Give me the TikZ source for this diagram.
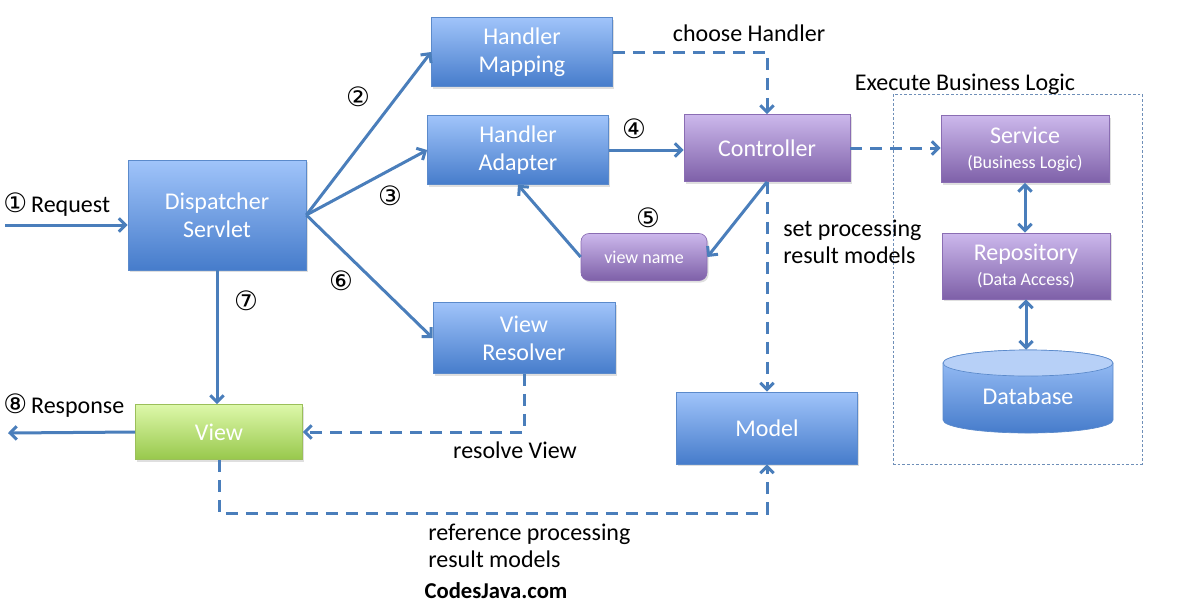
\documentclass[tikz,border=0pt]{standalone}
\usepackage{fontspec}
\setmainfont{Carlito}
\newfontfamily\circfont{DejaVu Sans}
\usetikzlibrary{arrows.meta,shadows}
\definecolor{lineblue}{HTML}{4A7EBB}
\definecolor{bluetop}{HTML}{A0C4FA}
\definecolor{bluebot}{HTML}{467CCB}
\definecolor{blueedge}{HTML}{5B8ACB}
\definecolor{purptop}{HTML}{CCB8EC}
\definecolor{purpbot}{HTML}{7E60A8}
\definecolor{purpedge}{HTML}{8A6DB3}
\definecolor{greentop}{HTML}{DDF8AA}
\definecolor{greenbot}{HTML}{98C84C}
\definecolor{greenedge}{HTML}{9BBF5A}
\definecolor{dbtop}{HTML}{B7D0F7}
\definecolor{contc}{HTML}{6F8FB8}
\begin{document}
\begin{tikzpicture}[x=0.75pt,y=-0.75pt,
  shd/.style={drop shadow={shadow xshift=1.2pt,shadow yshift=-1.5pt,opacity=0.25}},
  basebox/.style={inner sep=0pt, text=white, align=center, line width=0.5pt,
    font=\fontsize{18}{21}\selectfont, shd},
  bluebox/.style={basebox, draw=blueedge, top color=bluetop, bottom color=bluebot},
  purpbox/.style={basebox, draw=purpedge, top color=purptop, bottom color=purpbot},
  greenbox/.style={basebox, draw=greenedge, top color=greentop, bottom color=greenbot},
  lbl/.style={font=\fontsize{18}{20}\selectfont, text=black, inner sep=0pt, align=left},
  num/.style={font=\circfont\fontsize{20}{22}\selectfont, inner sep=0pt},
  arr/.style={draw=lineblue, line width=2.25pt, -{Straight Barb[length=5pt,width=10pt]}},
  darr/.style={arr, dash pattern=on 9pt off 6pt},
  biarr/.style={arr, {Straight Barb[length=5pt,width=10pt]}-{Straight Barb[length=5pt,width=10pt]}}
]
\useasboundingbox (0,0) rectangle (1195,612);

% business logic container
\node[draw=contc, line width=0.6pt, dash pattern=on 2pt off 1.5pt, inner sep=0pt,
      minimum width=186.75pt, minimum height=277.5pt] (bl) at (1017.5,279) {};
\node[lbl] (bltxt) at (965,84) {Execute Business Logic};

% boxes
\node[bluebox, minimum width=133.5pt, minimum height=82.5pt] (ds) at (217,215) {Dispatcher\\Servlet};
\node[bluebox, minimum width=135.75pt, minimum height=51.75pt] (hm) at (522,52) {Handler\\Mapping};
\node[bluebox, minimum width=135.75pt, minimum height=51.75pt] (ha) at (518,150) {Handler\\Adapter};
\node[purpbox, minimum width=124.5pt, minimum height=50.25pt] (ctrl) at (767,148) {Controller};
\node[purpbox, minimum width=94.5pt, minimum height=35.25pt, rounded corners=6pt,
      font=\fontsize{13.5}{16}\selectfont] (vn) at (644,257) {view name};
\node[bluebox, minimum width=136.5pt, minimum height=53.25pt] (vr) at (524,338) {View\\Resolver};
\node[greenbox, minimum width=125.25pt, minimum height=41.25pt] (view) at (219,432) {View};
\node[bluebox, minimum width=135.75pt, minimum height=54pt] (model) at (767,428) {Model};
\node[purpbox, minimum width=126pt, minimum height=50.25pt] (svc) at (1025,149)
  {Service\\[-2pt]{\fontsize{13.5}{16}\selectfont (Business Logic)}};
\node[purpbox, minimum width=126pt, minimum height=49.5pt] (repo) at (1026,266)
  {Repository\\[-2pt]{\fontsize{13.5}{16}\selectfont (Data Access)}};

% database cylinder
\shade[top color=bluetop, bottom color=bluebot, draw=blueedge, line width=0.5pt]
  (943,363) -- (943,420) arc[start angle=180,end angle=360,x radius=63.75pt,y radius=9.75pt]
  -- (1113,363) arc[start angle=0,end angle=180,x radius=63.75pt,y radius=9.75pt] -- cycle;
\fill[dbtop, draw=blueedge, line width=0.5pt] (1028,363) ellipse [x radius=63.75pt, y radius=9.75pt];
\node[inner sep=0pt, minimum width=127.5pt, minimum height=69pt, text=white,
      font=\fontsize{18}{21}\selectfont] (db) at (1028,396) {Database};

% free ends
\coordinate (reqs) at (5,225);
\coordinate (resp) at (8,433);
\coordinate (vmc) at (500,513);

% connectors
\draw[arr] (reqs) -- (reqs -| ds.west);
\draw[arr] (ds.east) -- (hm.west);
\draw[arr] (ds.east) -- (ha.west);
\draw[arr] (ds.east) -- (vr.west);
\draw[arr] (ds.south) -- (ds.south |- view.north);
\draw[arr] (ha.east) -- (ha.east -| ctrl.west);
\draw[arr] (ctrl.south) -- (vn.east);
\draw[arr] (vn.west) -- (ha.south);
\draw[darr] (hm.east) -| (ctrl.north);
\draw[darr] (ctrl.east) -- (ctrl.east -| svc.west);
\draw[darr] (ctrl.south) -- (model.north);
\draw[biarr] (svc.south) -- (svc.south |- repo.north);
\draw[biarr] (repo.south) -- (repo.south |- db.north);
\draw[darr] (vr.south) |- (view.east);
\draw[darr] (view.south) |- (vmc) -| (model.south);
\draw[arr] (view.west) -- (resp);

% labels
\node[lbl, anchor=west] (reqt) at (3,205) {{\circfont\fontsize{20}{22}\selectfont ①}\kern3pt Request};
\node[lbl, anchor=west] (respt) at (3,406) {{\circfont\fontsize{20}{22}\selectfont ⑧}\kern3pt Response};
\node[num] (n2) at (358,97) {②};
\node[num] (n3) at (390,196) {③};
\node[num] (n4) at (634,129) {④};
\node[num] (n5) at (648,218) {⑤};
\node[num] (n6) at (341,281) {⑥};
\node[num] (n7) at (246,301) {⑦};
\node[lbl] (choose) at (749,33) {choose Handler};
\node[lbl, anchor=west] (setp) at (783,242) {set processing\\result models};
\node[lbl] (resv) at (515,450) {resolve View};
\node[lbl, anchor=west] (refp) at (428,546) {reference processing\\result models};
\node[lbl, font=\bfseries\fontsize{17}{20}\selectfont] (cj) at (496,591) {CodesJava.com};
\end{tikzpicture}
\end{document}
